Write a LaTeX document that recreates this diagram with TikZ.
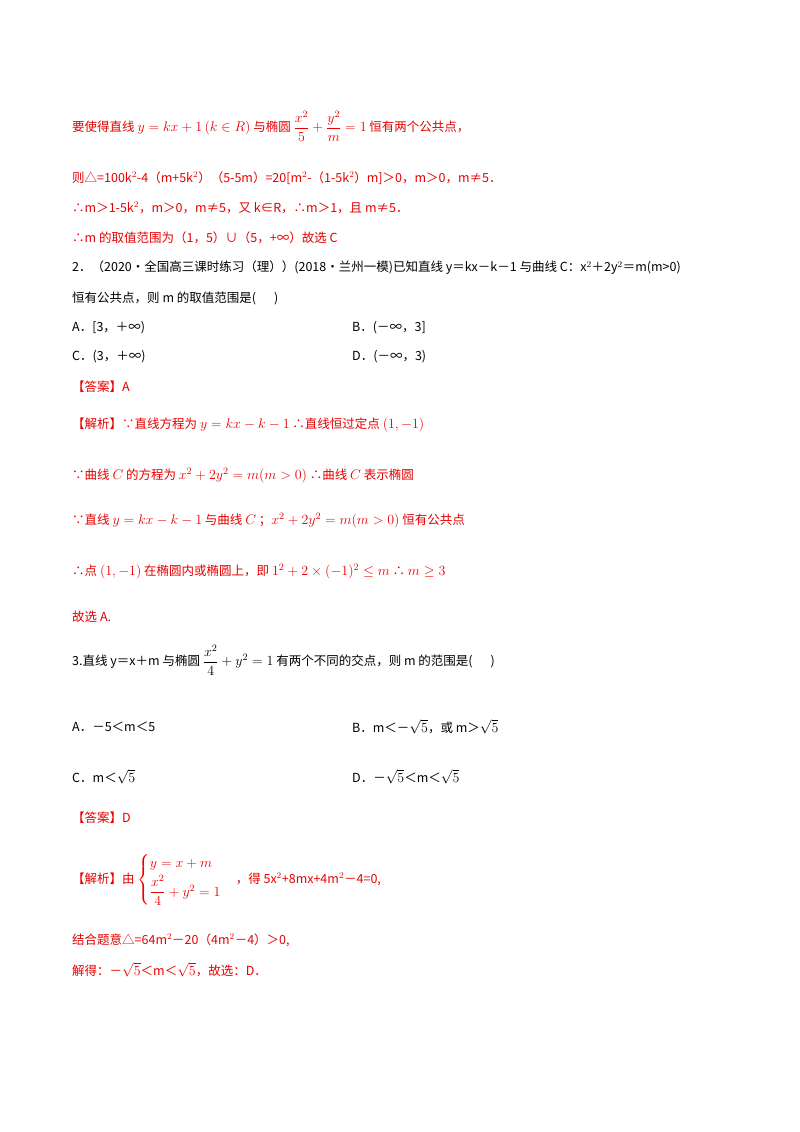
\documentclass[tikz,border=0pt]{standalone}
\usepackage{fix-cm}
\usepackage{amsmath,amssymb}
\usepackage{fontspec}
\newfontfamily\cjk{Noto Sans CJK SC}
\definecolor{ansred}{RGB}{230,0,0}
\begin{document}
\begin{tikzpicture}[x=1pt,y=-1pt,
  t/.style={anchor=west,inner sep=0pt,font=\cjk\fontsize{12.5}{14}\selectfont},
  r/.style={t,text=ansred}]
\useasboundingbox[fill=white] (0,0) rectangle (800,1132);
\node[r] (l1) at (72,126) {要使得直线 {\fontsize{14}{16}\selectfont$y=kx+1\left(k\in R\right)$} 与椭圆 {\fontsize{14}{16}\selectfont$\dfrac{x^2}{5}+\dfrac{y^2}{m}=1$} 恒有两个公共点，};
\node[r] (l2) at (72,178) {则△=100k$^2$-4（m+5k$^2$）（5-5m）=20[m$^2$-（1-5k$^2$）m]＞0，m＞0，m≠5．};
\node[r] (l3) at (72,208) {∴m＞1-5k$^2$，m＞0，m≠5，又 k∈R，∴m＞1，且 m≠5．};
\node[r] (l4) at (72,238) {∴m 的取值范围为（1，5）∪（5，+∞）故选 C};
\node[t] (l5) at (72,268) {2．（2020·全国高三课时练习（理））(2018·兰州一模)已知直线 y＝kx－k－1 与曲线 C：x$^2$＋2y$^2$＝m(m>0)};
\node[t] (l6) at (72,298) {恒有公共点，则 m 的取值范围是(\quad\ \ )};
\node[t] (a2) at (72,328) {A．[3，＋∞)};
\node[t] (b2) at (352,328) {B．(－∞，3]};
\node[t] (c2) at (72,357) {C．(3，＋∞)};
\node[t] (d2) at (352,357) {D．(－∞，3)};
\node[r] (ans2) at (72,387) {【答案】A};
\node[r] (s1) at (72,425) {【解析】∵直线方程为 {\fontsize{14}{16}\selectfont$y=kx-k-1$} ∴直线恒过定点 {\fontsize{14}{16}\selectfont$(1,-1)$}};
\node[r] (s2) at (72,476) {∵曲线 {\fontsize{14}{16}\selectfont$C$} 的方程为 {\fontsize{14}{16}\selectfont$x^2+2y^2=m(m>0)$} ∴曲线 {\fontsize{14}{16}\selectfont$C$} 表示椭圆};
\node[r] (s3) at (72,521) {∵直线 {\fontsize{14}{16}\selectfont$y=kx-k-1$} 与曲线 {\fontsize{14}{16}\selectfont$C$} ；{\fontsize{14}{16}\selectfont$x^2+2y^2=m(m>0)$} 恒有公共点};
\node[r] (s4) at (72,572) {∴点 {\fontsize{14}{16}\selectfont$(1,-1)$} 在椭圆内或椭圆上，即 {\fontsize{14}{16}\selectfont$1^2+2\times(-1)^2\le m$} ∴ {\fontsize{14}{16}\selectfont$m\ge 3$}};
\node[r] (s5) at (72,617) {故选 A.};
\node[t] (q3) at (72,660) {3.直线 y＝x＋m 与椭圆 {\fontsize{14}{16}\selectfont$\dfrac{x^2}{4}+y^2=1$} 有两个不同的交点，则 m 的范围是(\quad\ \ )};
\node[t] (a3) at (72,727) {A．－5＜m＜5};
\node[t] (b3) at (352,727) {B．m＜－{\fontsize{14}{16}\selectfont$\sqrt{5}$}，或 m＞{\fontsize{14}{16}\selectfont$\sqrt{5}$}};
\node[t] (c3) at (72,777) {C．m＜{\fontsize{14}{16}\selectfont$\sqrt{5}$}};
\node[t] (d3) at (352,777) {D．－{\fontsize{14}{16}\selectfont$\sqrt{5}$}＜m＜{\fontsize{14}{16}\selectfont$\sqrt{5}$}};
\node[r] (ans3) at (72,818) {【答案】D};
\node[r] (t1) at (72,880) {【解析】由 {\fontsize{14}{16}\selectfont$\begin{cases} y=x+m\\[2pt] \dfrac{x^2}{4}+y^2=1\end{cases}$}，得 5x$^2$+8mx+4m$^2$－4=0,};
\node[r] (t2) at (72,940) {结合题意△=64m$^2$－20（4m$^2$－4）＞0,};
\node[r] (t3) at (72,970) {解得：－{\fontsize{14}{16}\selectfont$\sqrt{5}$}＜m＜{\fontsize{14}{16}\selectfont$\sqrt{5}$}，故选：D．};
\end{tikzpicture}
\end{document}
